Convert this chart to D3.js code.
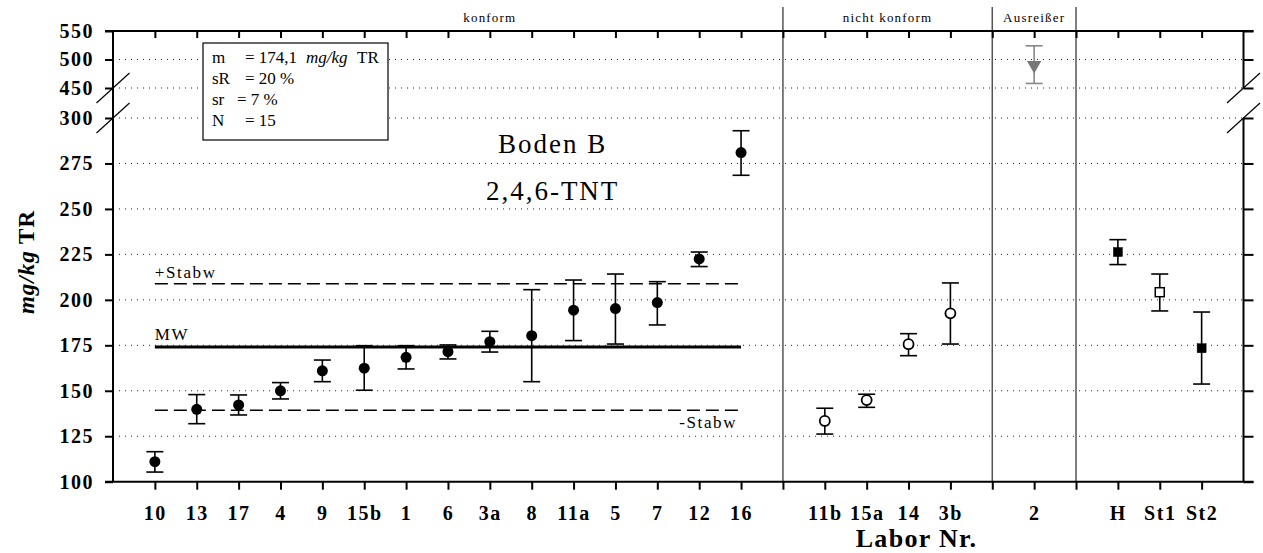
<!DOCTYPE html>
<html>
<head>
<meta charset="utf-8">
<script src="https://cdn.jsdelivr.net/npm/d3@7"></script>
<style>
  body { margin: 0; background: #fff; }
  svg { display: block; font-family: "Liberation Serif", "Times New Roman", serif; }
</style>
</head>
<body>
<svg id="chart" width="1263" height="553"></svg>
<script>
// values
const konformLabs = ["10", "13", "17", "4", "9", "15b", "1", "6", "3a", "8", "11a", "5", "7", "12", "16"];
const konformMean = [111, 139.8, 142.2, 150, 161, 162.4, 168.4, 171.5, 177, 180.3, 194.3, 195.2, 198.5, 222.5, 281];
const konformLow  = [105.3, 131.9, 136.7, 145.5, 155, 150.3, 162, 167.5, 171.3, 155, 177.6, 175.7, 186.2, 218.3, 268.5];
const konformHigh = [116.5, 147.9, 147.7, 154.5, 166.9, 174.8, 174.8, 175.2, 182.7, 205.6, 210.9, 214.2, 210, 226.3, 293];

const nichtLabs = ["11b", "15a", "14", "3b"];
const nichtMean = [133.4, 144.9, 175.6, 192.6];
const nichtLow  = [126.2, 140.9, 169.3, 175.7];
const nichtHigh = [140.4, 148.1, 181.4, 209.3];

const ausrLabs = ["2"];
const ausrMean = [490];
const ausrLow  = [458];
const ausrHigh = [524];

const refLabs = ["H", "St1", "St2"];
const refMean = [226.3, 204.2, 173.4];
const refLow  = [219.4, 193.9, 153.7];
const refHigh = [233.1, 214.2, 193.3];
const refFilled = [true, false, true];

const lowTicks = [100, 125, 150, 175, 200, 225, 250, 275, 300];
const highTicks = [450, 500, 550];

const mw = 174.1;
const sRpct = 20;
const infoLines = [
    ["m", "= 174,1", "mg/kg", "TR"],
    ["sR", "= 20 %"],
    ["sr", "= 7 %"],
    ["N", "= 15"]
];

const svg = d3.select('#chart');
const pLeft = 113, pRight = 1243.5, pTop = 31, pBottom = 481.7;

const slotKeys = ["start", ...konformLabs, "d1", ...nichtLabs, "d2", ...ausrLabs, "d3", ...refLabs, "end"];
const labKeys = [...konformLabs, ...nichtLabs, ...ausrLabs, ...refLabs];
const x = d3.scalePoint().domain(slotKeys).range([pLeft, pRight]);

const yLow = d3.scaleLinear().domain([100, 300]).range([pBottom, 118]);
const yHigh = d3.scaleLinear().domain([450, 550]).range([88, pTop]);
const y = v => v >= 450 ? yHigh(v) : yLow(v);

// dotted grid
svg.append('g')
    .selectAll('line')
    .data([...lowTicks, ...highTicks].filter(v => v !== 100 && v !== 550))
    .enter().append('line')
    .attr('x1', pLeft).attr('x2', pRight)
    .attr('y1', d => y(d)).attr('y2', d => y(d))
    .attr('stroke', '#222').attr('stroke-width', 1)
    .attr('stroke-dasharray', '1,5');

// group dividers
svg.append('g')
    .selectAll('line')
    .data(["d1", "d2", "d3"])
    .enter().append('line')
    .attr('x1', d => x(d)).attr('x2', d => x(d))
    .attr('y1', 7).attr('y2', pBottom)
    .attr('stroke', '#555').attr('stroke-width', 1.5);

const groupLabels = [["konform", "3a"], ["nicht konform", null], ["Ausreißer", "2"]];
svg.append('g')
    .selectAll('text')
    .data(groupLabels)
    .enter().append('text')
    .attr('x', d => d[1] ? x(d[1]) : (x("15a") + x("14")) / 2)
    .attr('y', 22)
    .attr('text-anchor', 'middle')
    .attr('font-size', 13)
    .attr('letter-spacing', 1.2)
    .text(d => d[0]);

// mean and +/- stdev lines
const x1 = x(konformLabs[0]), x2 = x(konformLabs[konformLabs.length - 1]);
const plus = mw * (1 + sRpct / 100), minus = mw * (1 - sRpct / 100);
svg.append('line').attr('x1', x1).attr('x2', x2).attr('y1', y(mw)).attr('y2', y(mw))
    .attr('stroke', '#000').attr('stroke-width', 3);
[plus, minus].forEach(v => {
    svg.append('line').attr('x1', x1).attr('x2', x2).attr('y1', y(v)).attr('y2', y(v))
        .attr('stroke', '#000').attr('stroke-width', 1.5).attr('stroke-dasharray', '13,6');
});
const refText = (t, xx, yy, anchor) => svg.append('text').attr('x', xx).attr('y', yy)
    .attr('text-anchor', anchor).attr('font-size', 17).attr('letter-spacing', 1.6).text(t);
refText('MW', x1, y(mw) - 7, 'start');
refText('+Stabw', x1, y(plus) - 6, 'start');
refText('-Stabw', x2 - 4, y(minus) + 18, 'end');

// info box
const box = svg.append('g');
box.append('rect').attr('x', 203).attr('y', 43).attr('width', 185).attr('height', 97)
    .attr('fill', '#fff').attr('stroke', '#000').attr('stroke-width', 1.2);
infoLines.forEach((l, i) => {
    const t = box.append('text').attr('y', 63 + i * 21).attr('font-size', 17);
    t.append('tspan').attr('x', 212).text(l[0]);
    t.append('tspan').attr('x', l[0] === 'sr' ? 237 : 245).text(l[1]);
    if (l[2]) {
        t.append('tspan').attr('x', 306).attr('font-style', 'italic').text(l[2]);
        t.append('tspan').attr('x', 357).text(l[3]);
    }
});

// title
const tx = (x("8") + x("11a")) / 2;
svg.append('text').attr('x', tx).attr('y', 153).attr('text-anchor', 'middle')
    .attr('font-size', 27).attr('letter-spacing', 2).text('Boden B');
svg.append('text').attr('x', tx).attr('y', 200).attr('text-anchor', 'middle')
    .attr('font-size', 27).attr('letter-spacing', 2).text('2,4,6-TNT');

// error bars + markers
function errorBars(labs, lo, hi, color) {
    const g = svg.append('g').attr('stroke', color).attr('stroke-width', 1.6);
    labs.forEach((k, i) => {
        const cx = x(k);
        g.append('line').attr('x1', cx).attr('x2', cx).attr('y1', y(lo[i])).attr('y2', y(hi[i]));
        [lo[i], hi[i]].forEach(v => g.append('line')
            .attr('x1', cx - 8.5).attr('x2', cx + 8.5).attr('y1', y(v)).attr('y2', y(v)));
    });
}
errorBars(konformLabs, konformLow, konformHigh, '#000');
errorBars(nichtLabs, nichtLow, nichtHigh, '#000');
errorBars(ausrLabs, ausrLow, ausrHigh, '#888');
errorBars(refLabs, refLow, refHigh, '#000');

svg.append('g').selectAll('circle')
    .data(konformLabs.map((k, i) => [k, konformMean[i]]))
    .enter().append('circle')
    .attr('cx', d => x(d[0])).attr('cy', d => y(d[1])).attr('r', 5.5).attr('fill', '#000');

svg.append('g').selectAll('circle')
    .data(nichtLabs.map((k, i) => [k, nichtMean[i]]))
    .enter().append('circle')
    .attr('cx', d => x(d[0])).attr('cy', d => y(d[1])).attr('r', 5)
    .attr('fill', '#fff').attr('stroke', '#000').attr('stroke-width', 1.8);

svg.append('g').selectAll('path')
    .data(ausrLabs.map((k, i) => [k, ausrMean[i]]))
    .enter().append('path')
    .attr('d', d3.symbol(d3.symbolTriangle, 90))
    .attr('transform', d => `translate(${x(d[0])},${y(d[1])}) rotate(180)`)
    .attr('fill', '#777');

svg.append('g').selectAll('rect')
    .data(refLabs.map((k, i) => [k, refMean[i], refFilled[i]]))
    .enter().append('rect')
    .attr('x', d => x(d[0]) - 4.5).attr('y', d => y(d[1]) - 4.5)
    .attr('width', 9).attr('height', 9)
    .attr('fill', d => d[2] ? '#000' : '#fff')
    .attr('stroke', '#000').attr('stroke-width', d => d[2] ? 0.5 : 1.5);

// axes
const tickKeys = slotKeys.slice(1, -1);
const fmtX = k => labKeys.includes(k) ? k : '';

const axB = svg.append('g').attr('transform', `translate(0,${pBottom})`)
    .call(d3.axisBottom(x).tickValues(tickKeys).tickFormat(fmtX).tickSize(8).tickSizeOuter(0));
axB.selectAll('text').attr('y', 38).attr('dy', null);

svg.append('g').attr('transform', `translate(0,${pTop})`)
    .call(d3.axisBottom(x).tickValues(tickKeys).tickFormat('').tickSize(7).tickSizeOuter(0));

[yLow, yHigh].forEach((sc, i) => {
    svg.append('g').attr('transform', `translate(${pLeft},0)`)
        .call(d3.axisLeft(sc).tickValues(i ? highTicks : lowTicks).tickSize(8).tickPadding(11).tickSizeOuter(0));
    svg.append('g').attr('transform', `translate(${pRight},0)`)
        .call(d3.axisRight(sc).tickValues(i ? highTicks : lowTicks).tickFormat('').tickSize(10).tickSizeOuter(0));
});

svg.selectAll('.domain').remove();
svg.selectAll('.tick line').attr('stroke', '#000').attr('stroke-width', 2);
svg.selectAll('.tick text')
    .attr('font-family', '"Liberation Serif", "Times New Roman", serif')
    .attr('font-size', 20).attr('font-weight', 'bold').attr('letter-spacing', 1.5).attr('fill', '#000');

// frame
const frame = svg.append('g').attr('stroke', '#000').attr('stroke-width', 2);
frame.append('line').attr('x1', pLeft - 8).attr('x2', pRight + 10).attr('y1', pTop).attr('y2', pTop);
frame.append('line').attr('x1', pLeft - 8).attr('x2', pRight + 10).attr('y1', pBottom).attr('y2', pBottom);
frame.append('line').attr('x1', pLeft).attr('x2', pLeft).attr('y1', pTop).attr('y2', pBottom);
frame.append('line').attr('x1', pRight).attr('x2', pRight).attr('y1', pTop).attr('y2', yHigh(450));
frame.append('line').attr('x1', pRight).attr('x2', pRight).attr('y1', yLow(300)).attr('y2', pBottom);

// axis break marks
const brk = svg.append('g').attr('stroke', '#000').attr('stroke-width', 1.2);
[pLeft, pRight].forEach(ax => {
    [yHigh(450), yLow(300)].forEach(by => {
        brk.append('line').attr('x1', ax - 16.5).attr('x2', ax + 16.5)
            .attr('y1', by + 15).attr('y2', by - 15);
    });
});

// axis titles
svg.append('text').attr('x', (x("14") + x("3b")) / 2 - 13).attr('y', 547).attr('text-anchor', 'middle')
    .attr('font-size', 26).attr('font-weight', 'bold').attr('letter-spacing', 1.3).text('Labor Nr.');

const yt = svg.append('text').attr('transform', `translate(34,262) rotate(-90)`)
    .attr('text-anchor', 'middle').attr('font-size', 23).attr('font-weight', 'bold').attr('letter-spacing', 1);
yt.append('tspan').attr('font-style', 'italic').text('mg/kg');
yt.append('tspan').text(' TR');
</script>
</body>
</html>
